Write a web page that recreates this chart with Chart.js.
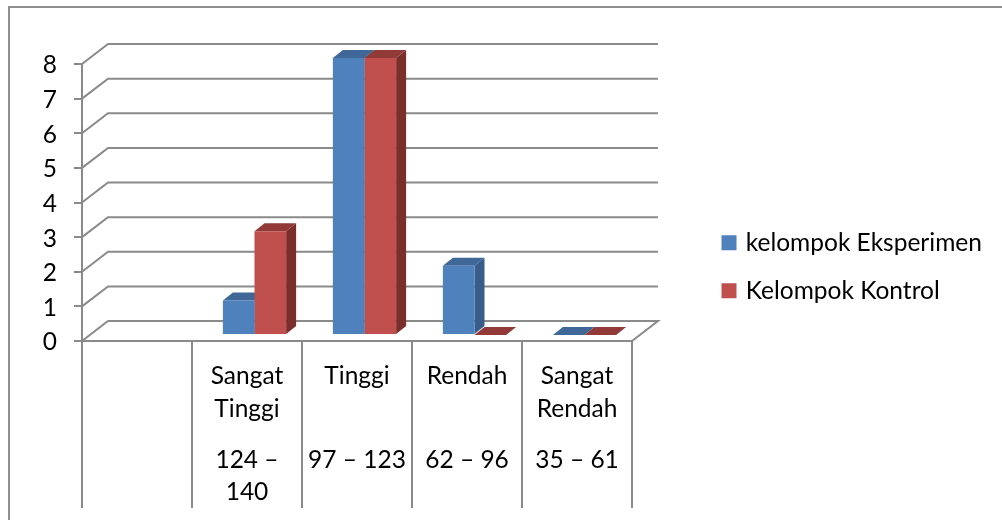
<!DOCTYPE html>
<html>
<head>
<meta charset="utf-8">
<script src="https://cdn.jsdelivr.net/npm/chart.js@4"></script>
<style>
  html, body { margin: 0; padding: 0; background: #fff; }
  #wrap { width: 1002px; height: 520px; overflow: hidden; }
</style>
</head>
<body>
<div id="wrap"><canvas id="chart" width="1002" height="520"></canvas></div>
<script>
// Category rows of the multi-level axis
const levelLabels = ['', ['Sangat', 'Tinggi'], 'Tinggi', 'Rendah', ['Sangat', 'Rendah']];
const rangeLabels = ['', ['124 –', '140'], '97 – 123', '62 – 96', '35 – 61'];

// Respondent counts per group
const eksperimen = [null, 1, 8, 2, 0];
const kontrol = [null, 3, 8, 0, 0];

const yTicks = [0, 1, 2, 3, 4, 5, 6, 7, 8];

const GRID = '#8a8a8a';
const FONT = 'Lato, Carlito, sans-serif';
const WALL = { dx: 26, dy: -20 };     // back wall offset of the box
const BAR_SHIFT = { dx: 7.5, dy: -6 }; // bars stand inside the floor
const BAR_DEPTH = { dx: 10, dy: -8 };  // depth of each column

const shades = [
  { side: '#385D8A', top: '#3F6797' },
  { side: '#7A2F2D', top: '#923A38' }
];

function poly(ctx, pts, fill) {
  ctx.beginPath();
  pts.forEach((p, i) => i ? ctx.lineTo(p[0], p[1]) : ctx.moveTo(p[0], p[1]));
  ctx.closePath();
  ctx.fillStyle = fill;
  ctx.fill();
}

// Outer frame, back wall lines, column sides and tops
const box3d = {
  id: 'box3d',
  beforeDraw(chart) {
    const ctx = chart.ctx;
    ctx.save();
    ctx.strokeStyle = '#8f8f8f';
    ctx.lineWidth = 2;
    ctx.strokeRect(9, 7, 1100, 600);
    ctx.restore();
  },
  beforeDatasetsDraw(chart) {
    const ctx = chart.ctx;
    const { x, y } = chart.scales;
    ctx.save();
    ctx.strokeStyle = GRID;
    ctx.lineWidth = 2;
    yTicks.forEach(v => {
      const py = y.getPixelForValue(v);
      ctx.beginPath();
      ctx.moveTo(x.left, py);
      ctx.lineTo(x.left + WALL.dx, py + WALL.dy);
      ctx.lineTo(x.right + WALL.dx, py + WALL.dy);
      if (v === 0) ctx.lineTo(x.right, py);
      ctx.stroke();
    });
    ctx.restore();

    ctx.save();
    ctx.translate(BAR_SHIFT.dx, BAR_SHIFT.dy);
    [0, 1].forEach(d => {
      chart.getDatasetMeta(d).data.forEach((bar, i) => {
        if (chart.data.datasets[d].data[i] === null) return;
        const { x: cx, y: top, base, width } = bar.getProps(['x', 'y', 'base', 'width'], true);
        const l = cx - width / 2, r = cx + width / 2;
        const { dx, dy } = BAR_DEPTH;
        poly(ctx, [[r, top], [r + dx, top + dy], [r + dx, base + dy], [r, base]], shades[d].side);
        poly(ctx, [[l, top], [l + dx, top + dy], [r + dx, top + dy], [r, top]], shades[d].top);
      });
    });
  },
  afterDatasetsDraw(chart) {
    chart.ctx.restore();
  },
  afterLayout(chart) {
    // Legend sits in the free band right of the plot
    const lg = chart.legend;
    lg.left = 701; lg.right = 1002; lg.top = 207; lg.bottom = 400;
    lg.width = 301; lg.height = 193;
  }
};

new Chart(document.getElementById('chart'), {
  type: 'bar',
  data: {
    labels: levelLabels,
    datasets: [
      { label: 'kelompok Eksperimen', data: eksperimen, backgroundColor: '#4F81BD', clip: false },
      { label: 'Kelompok Kontrol', data: kontrol, backgroundColor: '#C0504D', clip: false }
    ]
  },
  options: {
    responsive: false,
    animation: false,
    categoryPercentage: 0.575,
    barPercentage: 1,
    layout: { padding: { left: 0, top: 64, right: 370, bottom: 12 } },
    plugins: {
      tooltip: { enabled: false },
      title: { display: false },
      legend: {
        display: true,
        position: 'chartArea',
        align: 'start',
        labels: {
          boxWidth: 9, boxHeight: 9, padding: 23.5, color: '#000',
          font: { family: FONT, size: 24.5 },
          // a thick same-coloured stroke brings the swatch up to its full size
          generateLabels(chart) {
            return Chart.defaults.plugins.legend.labels.generateLabels(chart).map(item => ({
              ...item, lineWidth: 6, strokeStyle: item.fillStyle
            }));
          }
        }
      }
    },
    scales: {
      y: {
        min: 0, max: 8,
        afterFit(s) { s.width = 82; },
        afterBuildTicks(s) { s.ticks = yTicks.map(value => ({ value })); },
        border: { display: true, color: GRID, width: 2 },
        grid: { drawOnChartArea: false, color: GRID, lineWidth: 2, tickLength: 8 },
        ticks: { color: '#000', padding: 17, labelOffset: 1.5, font: { family: FONT, size: 24.5 } }
      },
      x: {
        position: 'bottom',
        afterFit(s) { s.height = 89; },
        border: { display: true, color: GRID, width: 2 },
        grid: { drawOnChartArea: false, color: GRID, lineWidth: 2, tickLength: 89, offset: true },
        ticks: {
          color: '#000', padding: -70, maxRotation: 0, minRotation: 0, autoSkip: false,
          font: { family: FONT, size: 24.5, lineHeight: 33 / 24.5 }
        }
      },
      x2: {
        type: 'category',
        position: 'bottom',
        labels: rangeLabels,
        offset: true,
        afterFit(s) { s.height = 78; },
        border: { display: false },
        grid: { drawOnChartArea: false, color: GRID, lineWidth: 2, tickLength: 78, offset: true },
        ticks: {
          color: '#000', padding: -64, maxRotation: 0, minRotation: 0, autoSkip: false,
          font: { family: FONT, size: 24.5, lineHeight: 32 / 24.5 }
        }
      }
    }
  },
  plugins: [box3d]
});
</script>
</body>
</html>
